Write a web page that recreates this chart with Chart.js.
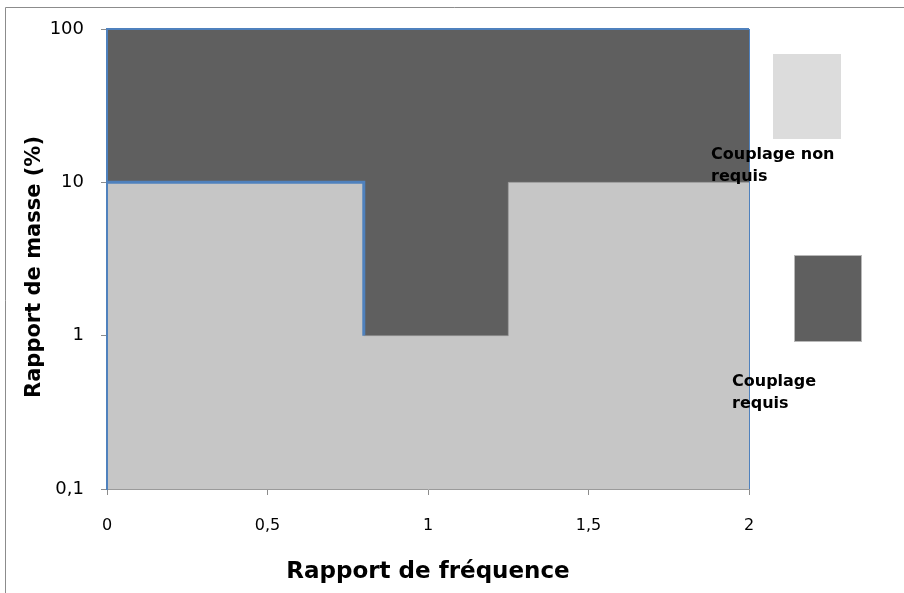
<!DOCTYPE html>
<html>
<head>
<meta charset="utf-8">
<script src="https://cdn.jsdelivr.net/npm/chart.js@4"></script>
<style>
  html, body { margin: 0; padding: 0; background: #fff; }
  #wrap { width: 904px; height: 593px; }
</style>
</head>
<body>
<div id="wrap"><canvas id="c" width="904" height="593"></canvas></div>
<script>
// ---- data ----
const xTicks = [0, 0.5, 1, 1.5, 2];
const xTickLabels = ['0', '0,5', '1', '1,5', '2'];
const yTicks = [0.1, 1, 10, 100];
const yTickLabels = ['0,1', '1', '10', '100'];

const requiredX = [0, 2];          // "Couplage requis" zone (upper limit)
const requiredY = [100, 100];
const notRequiredX = [0, 0.8, 0.8, 1.25, 1.25, 2];   // "Couplage non requis" boundary
const notRequiredY = [10, 10, 1, 1, 10, 10];

const legendLabels = [['Couplage non', 'requis'], ['Couplage', 'requis']];

const xTitle = 'Rapport de fréquence';
const yTitle = 'Rapport de masse (%)';

const BLUE = '#4f81bd';
const DARK = '#5f5f5f';
const LIGHT = '#c6c6c6';
const LEGEND_LIGHT = '#dcdcdc';

const toPts = (xs, ys) => xs.map((x, i) => ({ x: x, y: ys[i] }));

const framePlugin = {
  id: 'frame',
  beforeDraw(chart) {
    const ctx = chart.ctx;
    ctx.save();
    ctx.fillStyle = '#fff';
    ctx.fillRect(0, 0, chart.width, chart.height);
    ctx.strokeStyle = '#8c8c8c';
    ctx.lineWidth = 1;
    ctx.beginPath();
    ctx.moveTo(5.5, chart.height);
    ctx.lineTo(5.5, 7.5);
    ctx.lineTo(chart.width, 7.5);
    ctx.stroke();
    ctx.restore();
  },
  afterDatasetsDraw(chart) {
    const ctx = chart.ctx;
    const a = chart.chartArea;
    ctx.save();
    ctx.strokeStyle = BLUE;
    ctx.lineWidth = 2;
    ctx.beginPath();
    ctx.moveTo(a.left, a.bottom);
    ctx.lineTo(a.left, a.top);
    ctx.lineTo(a.right, a.top);
    ctx.stroke();
    ctx.lineWidth = 1;
    ctx.beginPath();
    ctx.moveTo(a.right + 0.5, a.top);
    ctx.lineTo(a.right + 0.5, a.bottom);
    ctx.stroke();
    ctx.restore();
  },
  afterDraw(chart) {
    const ctx = chart.ctx;
    const ds = chart.data.datasets;
    ctx.save();
    // y axis title (slightly below the plot centre, as in the original)
    ctx.translate(35, 267);
    ctx.rotate(-Math.PI / 2);
    ctx.fillStyle = '#000';
    ctx.font = 'bold 21px "DejaVu Sans", sans-serif';
    ctx.textAlign = 'center';
    ctx.textBaseline = 'middle';
    ctx.fillText(yTitle, 0, 0);
    ctx.restore();

    ctx.save();
    // legend entry 1 : non requis (light)
    ctx.fillStyle = LEGEND_LIGHT;
    ctx.fillRect(773, 54, 68, 85);
    // legend entry 2 : requis (dark)
    ctx.fillStyle = ds[0].backgroundColor;
    ctx.fillRect(794, 255, 68, 87);
    ctx.strokeStyle = '#b8b8b8';
    ctx.lineWidth = 1;
    ctx.strokeRect(794.5, 255.5, 67, 86);
    ctx.fillStyle = '#000';
    ctx.font = 'bold 16px "DejaVu Sans", sans-serif';
    ctx.textBaseline = 'alphabetic';
    ctx.textAlign = 'left';
    ctx.fillText(legendLabels[0][0], 711, 159);
    ctx.fillText(legendLabels[0][1], 711, 181);
    ctx.fillText(legendLabels[1][0], 732, 386);
    ctx.fillText(legendLabels[1][1], 732, 408);
    ctx.restore();
  }
};

new Chart(document.getElementById('c'), {
  type: 'line',
  data: {
    datasets: [
      {
        label: 'Couplage requis',
        data: toPts(requiredX, requiredY),
        backgroundColor: DARK,
        borderColor: BLUE,
        borderWidth: 0,
        pointRadius: 0,
        fill: 'start',
        order: 4
      },
      {
        label: 'Couplage non requis',
        data: toPts(notRequiredX, notRequiredY),
        backgroundColor: LIGHT,
        borderColor: 'rgba(0,0,0,0)',
        borderWidth: 0,
        pointRadius: 0,
        fill: 'start',
        order: 3
      },
      {
        label: 'Limite',
        data: toPts(notRequiredX, notRequiredY),
        backgroundColor: 'rgba(0,0,0,0)',
        borderColor: BLUE,
        borderWidth: 3,
        pointRadius: 0,
        fill: false,
        order: 1,
        segment: {
          borderColor: c => c.p0DataIndex < 2 ? BLUE : 'rgba(150,150,150,0.6)',
          borderWidth: c => c.p0DataIndex < 2 ? 3 : 1
        }
      }
    ]
  },
  options: {
    responsive: false,
    animation: false,
    devicePixelRatio: 1,
    layout: { padding: { top: 29, right: 155, left: 0, bottom: 0 } },
    plugins: { legend: { display: false }, tooltip: { enabled: false } },
    scales: {
      x: {
        type: 'linear',
        min: 0, max: 2,
        afterBuildTicks: s => { s.ticks = xTicks.map(v => ({ value: v })); },
        afterFit: s => { s.height = 104; },
        ticks: {
          callback: (v) => { const i = xTicks.indexOf(v); return i >= 0 ? xTickLabels[i] : ''; },
          font: { family: '"DejaVu Sans", sans-serif', size: 16 },
          color: '#000',
          padding: 21,
          maxRotation: 0
        },
        grid: { drawOnChartArea: false, drawTicks: true, tickLength: 6, color: '#8c8c8c' },
        border: { color: '#9a9a9a', width: 1 },
        title: {
          display: true, text: xTitle, color: '#000',
          font: { family: '"DejaVu Sans", sans-serif', size: 23, weight: 'bold' },
          padding: { top: 0, bottom: 7 }
        }
      },
      y: {
        type: 'logarithmic',
        min: 0.1, max: 100,
        afterBuildTicks: s => { s.ticks = yTicks.map(v => ({ value: v, major: true })); },
        afterFit: s => { s.width = 107; },
        ticks: {
          callback: (v) => { const i = yTicks.findIndex(t => Math.abs(t - v) < 1e-9); return i >= 0 ? yTickLabels[i] : ''; },
          font: { family: '"DejaVu Sans", sans-serif', size: 18 },
          color: '#000',
          padding: 17
        },
        grid: { drawOnChartArea: false, drawTicks: true, tickLength: 6, color: '#8c8c8c' },
        border: { color: BLUE, width: 2 },
        title: { display: false }
      }
    }
  },
  plugins: [framePlugin]
});
</script>
</body>
</html>
